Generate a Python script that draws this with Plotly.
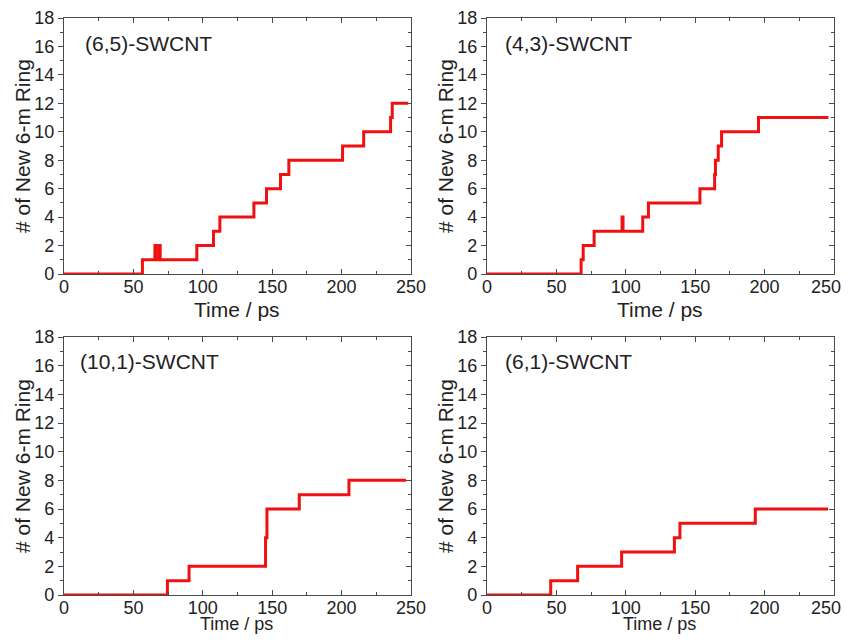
import plotly.graph_objects as go

# ---- data ----
panel_labels = ["(6,5)-SWCNT", "(4,3)-SWCNT", "(10,1)-SWCNT", "(6,1)-SWCNT"]

t_65 = [0, 56.5, 65.5, 66.3, 68.5, 69.3, 95.7, 107.7, 112.3, 136.8, 145.9, 156.0, 162.0, 200.7, 215.9, 235.3, 236.5, 248.0]
n_65 = [0, 1, 2, 1, 2, 1, 2, 3, 4, 5, 6, 7, 8, 9, 10, 11, 12, 12]

t_43 = [0, 67.8, 69.3, 77.2, 97.3, 98.0, 112.2, 116.3, 153.4, 164.0, 164.6, 166.6, 169.0, 195.6, 246.0]
n_43 = [0, 1, 2, 3, 4, 3, 4, 5, 6, 7, 8, 9, 10, 11, 11]

t_101 = [0, 74.5, 90.1, 145.2, 146.2, 169.5, 205.3, 246.4]
n_101 = [0, 1, 2, 4, 6, 7, 8, 8]

t_61 = [0, 45.9, 65.3, 97.0, 135.0, 139.0, 193.3, 245.7]
n_61 = [0, 1, 2, 3, 4, 5, 6, 6]

series_t = [t_65, t_43, t_101, t_61]
series_n = [n_65, n_43, n_101, n_61]

x_ticks = [0, 50, 100, 150, 200, 250]
x_title = "Time / ps"
y_title = "# of New 6-m Ring"

# ---- layout geometry ----
OFF = 8                     # page body margin
W, H = 851 - OFF, 643 - 2 * OFF
FONT = "Liberation Sans, Arial, sans-serif"
AX = "#4a4a4a"
RED = "#f01010"
TXT = "#222"

# plot areas in reference pixels: (left, right, top, bottom)
boxes = [(64, 411, 18, 274), (487, 834, 18, 274),
         (64, 411, 337, 595), (487, 834, 337, 595)]
label_dx = [19, 16, 14, 16]

def px(x):
    return (x - OFF) / W

def py(y):
    return 1 - (y - OFF) / H

fig = go.Figure()
layout = dict(
    width=W, height=H, margin=dict(l=0, r=0, t=0, b=0, autoexpand=False),
    paper_bgcolor="white", plot_bgcolor="white",
    showlegend=False, font=dict(family=FONT, color=TXT),
    annotations=[],
)

for i, (l, r, t, b) in enumerate(boxes):
    k = i + 1
    m = i + 5
    xs = "" if k == 1 else str(k)
    ys = "" if k == 1 else str(k)
    right_col = i in (1, 3)
    bottom_row = i in (2, 3)
    fig.add_trace(go.Scatter(
        x=series_t[i], y=series_n[i], mode="lines",
        line=dict(color=RED, width=3, shape="hv"),
        xaxis="x" + xs, yaxis="y" + ys, hoverinfo="skip"))
    # invisible trace for the mirror (top/right) axes
    fig.add_trace(go.Scatter(
        x=[0], y=[0], mode="markers", marker=dict(opacity=0),
        xaxis="x" + str(m), yaxis="y" + str(m), hoverinfo="skip"))

    # last x label of the right column is drawn separately so it is not cut at the page edge
    ttext = [str(v) for v in x_ticks]
    if right_col:
        ttext[-1] = ""

    dom_x = [px(l), px(r)]
    dom_y = [py(b), py(t)]
    layout["xaxis" + xs] = dict(
        domain=dom_x, anchor="y" + ys, range=[0, 250],
        tickmode="array", tickvals=x_ticks, ticktext=ttext,
        ticks="inside", ticklen=5, tickwidth=1.2, tickcolor=AX,
        ticklabelstandoff=-4,
        showline=True, linecolor=AX, linewidth=1.3, showgrid=False, zeroline=False,
        tickfont=dict(size=18, family=FONT, color=TXT),
        minor=dict(tickmode="linear", tick0=0, dtick=25, ticks="inside", ticklen=3,
                   tickcolor=AX, showgrid=False),
        fixedrange=True, automargin=False)
    layout["yaxis" + ys] = dict(
        domain=dom_y, anchor="x" + xs, range=[0, 18], dtick=2, tick0=0,
        ticks="outside", ticklen=5, tickwidth=1.2, tickcolor=AX,
        showline=True, linecolor=AX, linewidth=1.3, showgrid=False, zeroline=False,
        tickfont=dict(size=18, family=FONT, color=TXT),
        minor=dict(dtick=1, ticks="outside", ticklen=3, tickcolor=AX, showgrid=False),
        fixedrange=True, automargin=False)
    # mirror axes: top and right, ticks inside, no labels
    layout["xaxis" + str(m)] = dict(
        overlaying="x" + xs, side="top", anchor="y" + str(m), range=[0, 250],
        dtick=50, tick0=0, ticks="inside", ticklen=5, tickwidth=1.2, tickcolor=AX,
        showline=True, linecolor=AX, linewidth=1.3, showticklabels=False,
        showgrid=False, zeroline=False,
        minor=dict(dtick=25, ticks="inside", ticklen=3, tickcolor=AX, showgrid=False),
        fixedrange=True, automargin=False)
    layout["yaxis" + str(m)] = dict(
        overlaying="y" + ys, side="right", anchor="x" + str(m), range=[0, 18],
        dtick=2, tick0=0, ticks="inside", ticklen=5, tickwidth=1.2, tickcolor=AX,
        showline=True, linecolor=AX, linewidth=1.3, showticklabels=False,
        showgrid=False, zeroline=False,
        minor=dict(dtick=1, ticks="inside", ticklen=3, tickcolor=AX, showgrid=False),
        fixedrange=True, automargin=False)

    if right_col:
        layout["annotations"].append(dict(
            text=str(x_ticks[-1]), xref="paper", yref="paper",
            x=px(842), y=py(b + 13), xanchor="right", yanchor="middle",
            showarrow=False, borderpad=0,
            font=dict(size=18, family=FONT, color=TXT)))

    # panel label
    layout["annotations"].append(dict(
        text=panel_labels[i], xref="paper", yref="paper",
        x=px(l + label_dx[i]), y=py(t + 25),
        xanchor="left", yanchor="middle", showarrow=False,
        font=dict(size=21, family=FONT, color=TXT)))
    # x title
    if bottom_row:
        layout["annotations"].append(dict(
            text=x_title, xref="paper", yref="paper",
            x=px((l + r) / 2 - 1), y=py(635), xanchor="center", yanchor="bottom",
            showarrow=False, borderpad=0,
            font=dict(size=18, family=FONT, color=TXT)))
    else:
        layout["annotations"].append(dict(
            text=x_title, xref="paper", yref="paper",
            x=px((l + r) / 2 - 1), y=py(b + 35), xanchor="center", yanchor="middle",
            showarrow=False, borderpad=0,
            font=dict(size=21, family=FONT, color=TXT)))
    # y title
    layout["annotations"].append(dict(
        text=y_title, xref="paper", yref="paper",
        x=px(l - 42), y=py((t + b) / 2), xanchor="center", yanchor="middle",
        textangle=-90, showarrow=False, font=dict(size=21, family=FONT, color=TXT)))

fig.update_layout(**layout)
fig.write_html("out.html")
